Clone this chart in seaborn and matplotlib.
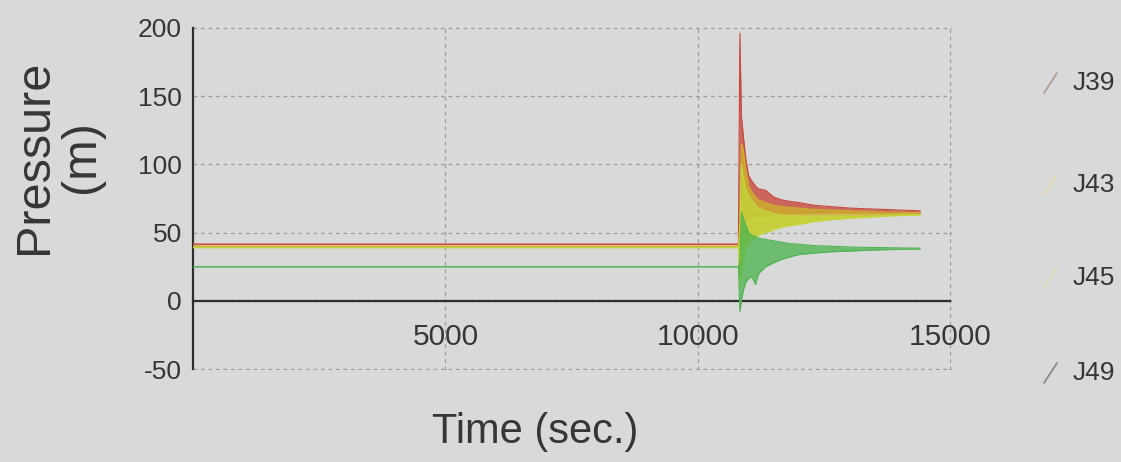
import matplotlib
matplotlib.use("Agg")
import matplotlib.pyplot as plt
from matplotlib.lines import Line2D
import seaborn as sns
import pandas as pd

# ---------------- data ----------------
time_s = [0, 10800, 10830, 10860, 10900, 10950, 11000, 11060, 11140, 11200,
          11340, 11500, 11660, 11800, 12000, 12300, 12650, 13000, 13300,
          13700, 14000, 14400]

j39_upper = [41.5, 41.5, 196, 135, 120, 103, 92, 88, 84, 82, 81, 76, 74, 73,
             72, 70, 69, 68, 67.5, 67, 66.5, 66]
j39_lower = [41.5, 41.5, 40, 50, 55, 58, 60, 62, 62, 62, 62, 63, 63.5, 64,
             64, 64.5, 64.5, 64.5, 64.5, 64.5, 64.5, 64.5]

j43_upper = [40, 40, 60, 115, 110, 95, 85, 80, 76, 74, 72, 70, 69, 68.5, 68,
             67, 66.5, 66, 65.5, 65, 65, 64.5]
j43_lower = [40, 40, 20, 30, 40, 44, 46, 47, 48, 50, 52, 54, 55, 56, 57, 59,
             60, 61, 62, 62.5, 63, 63.5]

j45_upper = [39, 39, 50, 100, 90, 82, 78, 74, 70, 68, 66, 64, 63, 62.5, 62,
             62, 62, 62, 62, 62.5, 63, 63]
j45_lower = [39, 39, 10, 20, 30, 38, 42, 44, 46, 48, 50, 52, 54, 55, 56, 58,
             59.5, 60.5, 61, 62, 62.5, 63]

j49_upper = [25, 25, 30, 65, 60, 55, 50, 48, 47, 46, 45, 44, 43, 42, 41.5,
             40.5, 40, 39.5, 39.2, 39, 38.8, 38.6]
j49_lower = [25, 25, -8, 0, 8, 14, 16, 18, 12, 20, 25, 28, 30.5, 32, 34, 35,
             36, 36.5, 37, 37.5, 37.8, 38]

series_names = ["J39", "J43", "J45", "J49"]
x_ticks = [5000, 10000, 15000]
y_ticks = [-50, 0, 50, 100, 150, 200]

# ---------------- style ----------------
sns.set_style("white")
plt.rcParams["font.family"] = ["Liberation Sans", "DejaVu Sans"]

bg = "#d9d9d9"
txt = "#363636"
colors = {"J39": "#c8463a", "J43": "#cdb22a", "J45": "#c4d63a", "J49": "#4fb452"}
legend_colors = {"J39": "#b89a9a", "J43": "#e2dcae", "J45": "#dde4b6", "J49": "#8a8a8a"}

fig = plt.figure(figsize=(11.21, 4.62), dpi=100, facecolor=bg)
ax = fig.add_axes([193 / 1121, 1 - 370 / 462, (952 - 193) / 1121, (370 - 27) / 462])
ax.set_facecolor(bg)

uppers = [j39_upper, j43_upper, j45_upper, j49_upper]
lowers = [j39_lower, j43_lower, j45_lower, j49_lower]

for i, (name, up, lo) in enumerate(zip(series_names, uppers, lowers)):
    c = colors[name]
    ax.fill_between(time_s, lo, up, color=c, alpha=0.78, linewidth=0, zorder=3 + 2 * i)
    df = pd.DataFrame({"t": time_s + time_s,
                       "v": up + lo,
                       "edge": ["u"] * len(up) + ["l"] * len(lo)})
    sns.lineplot(data=df, x="t", y="v", units="edge", estimator=None,
                 color=c, linewidth=0.8, ax=ax, zorder=4 + 2 * i, legend=False)

ax.set_xlim(0, 15030)
ax.set_ylim(-50.6, 200.6)
ax.set_xticks(x_ticks)
ax.set_yticks(y_ticks)
ax.set_xticklabels([str(v) for v in x_ticks])
ax.set_yticklabels([str(v) for v in y_ticks])
ax.set_xlabel("")
ax.set_ylabel("")

ax.grid(True, linestyle=(0, (3, 3)), color="#9a9a9a", linewidth=0.9, zorder=0)
for s in ["top", "right"]:
    ax.spines[s].set_visible(False)
ax.spines["bottom"].set_position(("data", 0))
ax.spines["bottom"].set_bounds(0, 15000)
ax.spines["bottom"].set_color("#2e2e2e")
ax.spines["bottom"].set_linewidth(1.6)
ax.spines["bottom"].set_zorder(2)
ax.spines["left"].set_color("#2e2e2e")
ax.spines["left"].set_linewidth(1.6)
ax.spines["left"].set_bounds(-50, 200)

ax.tick_params(axis="x", direction="inout", length=10, width=1.4, color="#2e2e2e",
               labelsize=21.5, labelcolor=txt, pad=11)
ax.tick_params(axis="y", direction="out", length=6, width=1.4, color="#2e2e2e",
               labelsize=19, labelcolor=txt, pad=2)

fig.text(58 / 1121, 1 - 157 / 462, "Pressure\n(m)", rotation=90, ha="center",
         va="center", multialignment="center", fontsize=35, color=txt,
         linespacing=1.05)
fig.text(535 / 1121, 1 - 432 / 462, "Time (sec.)", ha="center", va="center",
         fontsize=30, color=txt)

# legend (outside, right column)
leg_y = [83, 185, 278, 373]
for name, yy in zip(series_names, leg_y):
    fig.add_artist(Line2D([1044 / 1121, 1057 / 1121],
                          [1 - (yy + 10) / 462, 1 - (yy - 10) / 462],
                          transform=fig.transFigure, color=legend_colors[name],
                          linewidth=1.3))
    fig.text(1073 / 1121, 1 - yy / 462, name, ha="left", va="center",
             fontsize=19, color=txt)

fig.savefig("out.png", dpi=100, facecolor=bg)
